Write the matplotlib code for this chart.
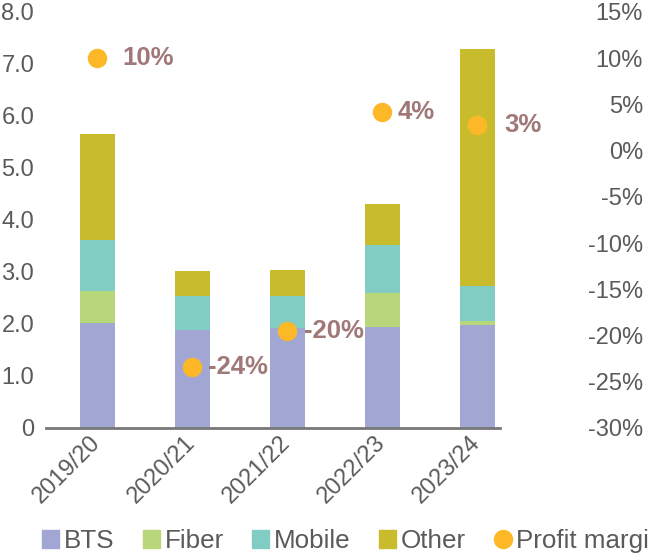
import matplotlib.pyplot as plt
from matplotlib.patches import Patch
from matplotlib.lines import Line2D
from matplotlib.transforms import ScaledTranslation

plt.rcParams['font.family'] = ['Liberation Sans', 'DejaVu Sans']

years = ['2019/20', '2020/21', '2021/22', '2022/23', '2023/24']
bts = [2.02, 1.88, 1.93, 1.94, 1.98]
fiber = [0.61, 0.0, 0.0, 0.66, 0.08]
mobile = [0.99, 0.66, 0.61, 0.92, 0.67]
other = [2.03, 0.48, 0.50, 0.79, 4.56]
margin = [10.0, -23.4, -19.5, 4.2, 2.8]
margin_labels = ['10%', '-24%', '-20%', '4%', '3%']

colores = {'BTS': '#a2a6d2', 'Fiber': '#b8d77a', 'Mobile': '#82cdc3',
           'Other': '#c9bc2c', 'Profit margin': '#fdb827'}
gris = '#5a5a5a'

fig = plt.figure(figsize=(6.48, 5.56), dpi=100)
ax = fig.add_axes([46 / 648, 1 - 428 / 556, 454 / 648, 416 / 556])

# Barras apiladas
x = list(range(len(years)))
base = [0.0] * len(years)
for nombre, valores in [('BTS', bts), ('Fiber', fiber), ('Mobile', mobile), ('Other', other)]:
    ax.bar(x, valores, bottom=base, width=0.37, color=colores[nombre])
    base = [b + v for b, v in zip(base, valores)]

ax.set_xlim(-0.54, 4.24)
ax.set_ylim(0, 8)
ax.set_yticks(range(0, 9))
ax.set_yticklabels(['0'] + ['%.1f' % v for v in range(1, 9)])
ax.set_xticks(x)
ax.set_xticklabels(years, rotation=45, ha='right', va='center', rotation_mode='anchor')
for lbl in ax.get_xticklabels():
    lbl.set_transform(lbl.get_transform() + ScaledTranslation(7 / 100, -10 / 100, fig.dpi_scale_trans))
ax.tick_params(axis='both', length=0, labelsize=17, labelcolor=gris, pad=8.5)
for s in ['top', 'right', 'left']:
    ax.spines[s].set_visible(False)
ax.spines['bottom'].set_color('#777777')
ax.spines['bottom'].set_linewidth(2)

# Eje derecho: margen de beneficio
ax2 = ax.twinx()
ax2.set_ylim(-30, 15)
ax2.set_yticks(range(-30, 16, 5))
ax2.set_yticklabels(['%d%%' % v for v in range(-30, 16, 5)])
ax2.tick_params(axis='y', length=0, labelsize=17, labelcolor=gris, pad=103)
for lbl in ax2.get_yticklabels():
    lbl.set_horizontalalignment('right')
for s in ax2.spines.values():
    s.set_visible(False)

ax2.plot(x, margin, 'o', color=colores['Profit margin'], markersize=13, linestyle='none')
desplaz = [25, 16, 17, 15, 27]
for xi, m, txt, d in zip(x, margin, margin_labels, desplaz):
    ax2.annotate(txt, (xi, m), xytext=(d * 0.72, 0), textcoords='offset points',
                 ha='left', va='center', fontsize=18.5, fontweight='bold', color='#a07878')

# Leyenda (en el original queda cortada por el borde derecho)
handles = [Patch(color=colores[n]) for n in ['BTS', 'Fiber', 'Mobile', 'Other']]
handles.append(Line2D([], [], marker='o', color=colores['Profit margin'], linestyle='none', markersize=13))
fig.legend(handles, ['BTS', 'Fiber', 'Mobile', 'Other', 'Profit margin'], ncol=5,
           loc='center left', bbox_to_anchor=(42 / 648, 1 - 541 / 556), frameon=False,
           fontsize=18.7, labelcolor=gris, handlelength=0.65, handleheight=0.65,
           handletextpad=0.2, columnspacing=1.08, borderpad=0, borderaxespad=0)

fig.savefig('out.png', dpi=100)
